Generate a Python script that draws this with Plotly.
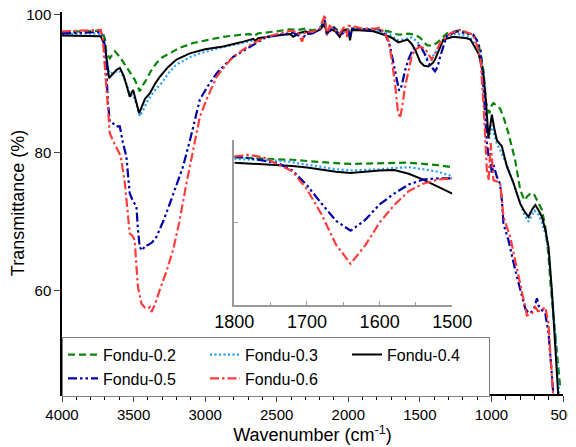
import plotly.graph_objects as go

# main spectra (wavenumber cm-1, transmittance %)
wn_02 = [4000, 3800, 3720, 3700, 3690, 3666, 3650, 3631, 3600, 3570, 3550, 3520, 3492, 3475, 3457, 3435, 3410, 3380,
         3340, 3300, 3247, 3180, 3084, 3000, 2874, 2750, 2687, 2660, 2630, 2500, 2408, 2350, 2300, 2250, 2200, 2165,
         2150, 2100, 2060, 2000, 1988, 1975, 1900, 1800, 1719, 1650, 1580, 1535, 1500, 1452, 1420, 1382, 1312, 1219,
         1126, 1102, 1080, 1056, 1037, 1014, 1000, 986, 960, 939, 910, 881, 834, 799, 775, 764, 752, 730, 706, 680,
         647, 620, 601, 585, 566, 550, 531, 520]
t_02 = [97.5, 97.6, 97.7, 96.5, 94.5, 93.7, 94.2, 94.7, 94.0, 93.0, 92.3, 91.5, 90.6, 89.8, 88.9, 89.8, 90.6, 91.8,
        93.0, 93.8, 94.4, 95.2, 95.9, 96.3, 96.8, 97.1, 97.2, 96.9, 97.3, 97.6, 97.9, 97.8, 98.0, 97.7, 98.1, 98.8,
        97.6, 98.2, 97.5, 98.0, 97.0, 98.0, 97.9, 97.9, 97.6, 97.1, 97.25, 97.1, 96.7, 95.6, 95.5, 95.9, 97.3, 97.8,
        96.9, 96.4, 94.8, 92.0, 87.2, 85.7, 86.8, 87.2, 86.8, 86.4, 84.8, 82.8, 78.9, 74.6, 73.4, 73.1, 73.6, 74.0,
        74.1, 73.0, 71.7, 68.8, 64.9, 60.5, 56.2, 52.0, 48.4, 46.0]

wn_03 = [4000, 3800, 3725, 3700, 3680, 3668, 3640, 3600, 3570, 3540, 3520, 3500, 3480, 3455, 3430, 3400, 3350, 3300,
         3250, 3200, 3100, 3050, 2900, 2750, 2650, 2600, 2500, 2400, 2380, 2300, 2250, 2200, 2165, 2150, 2100, 2060,
         2000, 1988, 1975, 1900, 1800, 1742, 1650, 1604, 1558, 1522, 1500, 1470, 1445, 1420, 1400, 1360, 1330, 1250,
         1150, 1110, 1085, 1060, 1040, 1025, 1015, 1000, 985, 962, 930, 900, 850, 800, 770, 741, 715, 700, 670, 650,
         620, 600, 585, 570, 555, 545, 530, 520]
t_03 = [97.2, 97.3, 97.2, 95.5, 92.5, 91.5, 91.6, 91.9, 91.0, 89.5, 88.3, 88.3, 86.8, 85.3, 86.3, 87.6, 89.1, 90.2,
        91.7, 92.8, 93.9, 94.3, 95.2, 95.9, 96.3, 96.6, 97.0, 97.2, 96.9, 97.5, 97.4, 97.8, 99.0, 97.5, 98.0, 97.2,
        97.8, 96.8, 97.9, 97.8, 97.7, 97.5, 96.3, 96.45, 96.7, 96.2, 95.6, 94.5, 93.6, 93.5, 94.3, 95.5, 96.5, 97.3,
        96.8, 95.6, 94.2, 91.5, 87.0, 83.0, 82.0, 84.0, 83.0, 81.3, 80.0, 78.6, 75.8, 72.8, 71.0, 70.0, 71.0, 71.6,
        71.0, 70.0, 68.0, 65.5, 61.5, 58.0, 54.0, 50.5, 45.0, 43.0]

wn_04 = [4000, 3800, 3730, 3700, 3680, 3671, 3650, 3620, 3596, 3570, 3545, 3527, 3503, 3485, 3461, 3440, 3420, 3387,
         3350, 3317, 3260, 3200, 3107, 3000, 2874, 2750, 2664, 2650, 2630, 2500, 2408, 2385, 2350, 2300, 2260, 2200,
         2165, 2150, 2120, 2090, 2060, 2040, 2000, 1988, 1975, 1900, 1825, 1750, 1700, 1650, 1610, 1586, 1558, 1530,
         1499, 1470, 1440, 1410, 1394, 1336, 1266, 1172, 1146, 1102, 1089, 1056, 1037, 1021, 1010, 997, 980, 962, 927,
         892, 846, 811, 799, 770, 741, 715, 693, 670, 647, 620, 601, 578, 555, 536, 525]
t_04 = [97.0, 97.0, 96.9, 95.5, 92.0, 90.8, 91.3, 92.0, 92.3, 91.2, 89.5, 88.1, 89.1, 87.5, 85.7, 86.8, 87.8, 88.6,
        90.0, 91.0, 92.4, 93.5, 94.4, 95.0, 95.4, 96.0, 96.5, 96.2, 96.6, 97.0, 97.2, 96.8, 97.3, 97.6, 97.3, 97.8,
        98.6, 97.2, 97.9, 97.6, 96.8, 97.7, 97.8, 96.3, 97.8, 97.7, 97.6, 97.1, 96.7, 96.0, 96.2, 96.4, 95.8, 94.8,
        93.2, 92.6, 92.5, 93.0, 93.5, 96.4, 96.8, 96.6, 96.4, 94.9, 94.3, 91.5, 87.2, 82.1, 83.5, 85.5, 83.5, 81.8,
        80.9, 78.0, 75.6, 73.6, 72.6, 71.5, 70.7, 71.8, 72.4, 71.6, 70.7, 68.5, 66.3, 60.1, 52.8, 45.5, 42.0]

wn_05 = [4000, 3800, 3725, 3705, 3690, 3680, 3666, 3640, 3620, 3596, 3575, 3550, 3527, 3505, 3480, 3470, 3457, 3440,
         3420, 3399, 3370, 3340, 3290, 3247, 3200, 3154, 3100, 3060, 3037, 2980, 2920, 2860, 2804, 2730, 2664, 2571,
         2480, 2384, 2350, 2320, 2300, 2250, 2200, 2165, 2150, 2100, 2060, 2000, 1988, 1975, 1900, 1825, 1800, 1742,
         1710, 1682, 1664, 1645, 1627, 1604, 1580, 1553, 1531, 1499, 1470, 1440, 1394, 1375, 1359, 1312, 1242, 1126,
         1100, 1076, 1056, 1032, 1020, 1009, 1003, 997, 985, 962, 940, 927, 916, 881, 834, 799, 764, 745, 729, 700,
         682, 670, 658, 624, 601, 590, 578, 566]
t_05 = [97.3, 97.4, 97.5, 96.0, 92.0, 87.5, 84.5, 84.2, 83.8, 83.8, 81.5, 79.4, 74.1, 73.0, 72.2, 69.0, 66.3, 65.8,
        66.5, 66.6, 67.0, 67.8, 70.2, 72.6, 75.3, 78.0, 82.3, 85.7, 87.7, 89.7, 91.5, 92.8, 93.9, 94.8, 95.6, 96.8,
        97.1, 97.4, 97.0, 96.3, 97.2, 97.3, 97.9, 99.2, 97.3, 98.1, 97.0, 97.9, 96.9, 98.0, 97.9, 97.8, 98.0, 97.2,
        95.55, 92.5, 90.5, 89.0, 89.7, 91.9, 93.5, 94.8, 95.35, 95.6, 94.5, 93.0, 91.8, 92.5, 93.9, 96.9, 97.6, 97.1,
        96.2, 94.9, 89.6, 81.4, 79.5, 79.9, 78.0, 77.0, 78.2, 76.5, 75.5, 73.1, 69.7, 67.3, 63.0, 60.1, 57.4, 56.9,
        56.7, 57.5, 58.9, 57.8, 57.4, 56.7, 53.8, 51.0, 47.5, 44.6]

wn_06 = [4000, 3800, 3730, 3715, 3700, 3690, 3678, 3666, 3640, 3608, 3590, 3561, 3540, 3527, 3510, 3492, 3480, 3469,
         3445, 3420, 3399, 3385, 3375, 3350, 3317, 3270, 3224, 3180, 3130, 3080, 3037, 2990, 2920, 2860, 2804, 2730,
         2664, 2571, 2480, 2400, 2350, 2324, 2300, 2250, 2200, 2163, 2150, 2130, 2100, 2060, 2030, 2010, 2000, 1975,
         1900, 1800, 1779, 1742, 1719, 1696, 1673, 1655, 1639, 1623, 1604, 1580, 1558, 1535, 1500, 1464, 1440, 1417,
         1390, 1359, 1289, 1219, 1126, 1100, 1076, 1056, 1032, 1020, 1005, 995, 986, 960, 939, 927, 916, 869, 822,
         787, 752, 717, 693, 675, 658, 624, 601, 587, 568]
t_06 = [97.6, 97.7, 97.8, 96.5, 93.0, 89.5, 86.2, 82.8, 81.6, 80.4, 79.5, 75.6, 71.5, 68.3, 68.0, 67.3, 63.5, 60.5,
        58.1, 57.5, 57.4, 57.6, 56.9, 58.0, 60.1, 62.8, 65.9, 70.0, 75.6, 80.8, 85.2, 87.7, 91.0, 92.6, 93.9, 95.0,
        95.9, 96.8, 97.3, 97.7, 97.4, 96.1, 97.6, 97.5, 98.0, 100.0, 97.0, 98.4, 97.9, 97.3, 98.2, 96.8, 98.4, 98.4,
        98.0, 98.0, 98.2, 97.2, 96.2, 93.5, 89.9, 86.3, 85.0, 86.7, 89.5, 92.1, 93.9, 94.9, 95.35, 95.1, 94.3, 93.5,
        94.5, 95.9, 97.3, 97.8, 97.1, 95.5, 93.5, 87.2, 77.5, 76.0, 81.4, 78.5, 76.0, 75.8, 75.6, 73.1, 70.7, 67.8,
        63.0, 59.6, 56.4, 56.7, 57.6, 57.0, 57.1, 57.6, 55.2, 50.4, 44.6]

# inset 1800-1500
wn_in = [1800, 1780, 1760, 1740, 1720, 1700, 1680, 1660, 1640, 1620, 1600, 1580, 1560, 1540, 1520, 1500]
in_02 = [97.9, 97.85, 97.75, 97.65, 97.6, 97.45, 97.3, 97.2, 97.1, 97.15, 97.2, 97.25, 97.25, 97.1, 96.95, 96.7]
in_03 = [97.7, 97.6, 97.55, 97.5, 97.3, 97.0, 96.7, 96.45, 96.3, 96.35, 96.45, 96.6, 96.7, 96.45, 96.15, 95.6]
in_04 = [97.25, 97.15, 97.05, 97.0, 96.85, 96.65, 96.4, 96.15, 96.0, 96.15, 96.3, 96.35, 95.9, 95.2, 94.4, 93.5]
in_05 = [98.0, 97.8, 97.5, 97.2, 96.3, 94.5, 92.3, 90.2, 89.0, 90.3, 92.2, 93.5, 94.6, 95.2, 95.35, 95.35]
in_06 = [98.0, 98.2, 97.9, 97.1, 96.2, 94.0, 91.0, 87.3, 85.0, 87.2, 90.0, 92.1, 93.8, 94.7, 95.2, 95.35]

names = ["Fondu-0.2", "Fondu-0.3", "Fondu-0.4", "Fondu-0.5", "Fondu-0.6"]
main_x = [wn_02, wn_03, wn_04, wn_05, wn_06]
main_y = [t_02, t_03, t_04, t_05, t_06]
inset_y = [in_02, in_03, in_04, in_05, in_06]

styles = [
    dict(color="#0a840a", dash="7px,4px", width=2.2),
    dict(color="#1e9eff", dash="2px,2.5px", width=2.2),
    dict(color="black", dash="solid", width=2),
    dict(color="#0000a8", dash="9px,3px,2.5px,3px,2.5px,3px", width=2.2),
    dict(color="#ff3c3c", dash="9px,3px,2.5px,3px", width=2.2),
]

fig = go.Figure()
for name, x, y, st in zip(names, main_x, main_y, styles):
    fig.add_trace(go.Scatter(x=x, y=y, mode="lines", name=name, line=st))
for name, y, st in zip(names, inset_y, styles):
    fig.add_trace(go.Scatter(x=wn_in, y=y, mode="lines", name=name, line=st,
                             xaxis="x2", yaxis="y2", showlegend=False))

font = "Arial, Liberation Sans, sans-serif"
# page body adds an 8px margin, so the figure is 8px smaller each way
fig.update_layout(
    width=568, height=439,
    margin=dict(l=54, r=13, t=4, b=53),
    paper_bgcolor="white", plot_bgcolor="white",
    font=dict(family=font, size=15, color="black"),
    xaxis=dict(range=[4000, 500], tickvals=[4000, 3500, 3000, 2500, 2000, 1500, 1000, 500], automargin=False,
               ticks="outside", ticklen=6, tickwidth=1.2, showline=True, linecolor="black", linewidth=1.5,
               showgrid=False, zeroline=False, ticklabeloverflow="allow",
               minor=dict(dtick=100, ticks="outside", ticklen=4, tickcolor="black", showgrid=False),
               title=dict(text="Wavenumber (cm<sup>-1</sup>)", font=dict(size=18), standoff=6)),
    yaxis=dict(range=[45, 100.4], tickvals=[60, 80, 100], ticks="outside", ticklen=6, tickwidth=1.2,
               showline=True, linecolor="black", linewidth=1.5, showgrid=False, zeroline=False, automargin=False,
               ticklabeloverflow="allow",
               title=dict(text="Transmittance (%)", font=dict(size=18), standoff=4)),
    xaxis2=dict(domain=[0.344, 0.779], anchor="y2", range=[1800, 1500], tickvals=[1800, 1700, 1600, 1500],
                ticks="inside", ticklen=4, tickcolor="#9a9a9a", showline=True, linecolor="#9a9a9a", linewidth=1.5,
                showgrid=False, zeroline=False, tickfont=dict(size=18), automargin=False,
                minor=dict(dtick=50, ticks="inside", ticklen=3, tickcolor="#9a9a9a", showgrid=False)),
    yaxis2=dict(domain=[0.233, 0.665], anchor="x2", range=[80, 100], tickvals=[80, 90, 100],
                showticklabels=False, ticks="inside", ticklen=4, tickcolor="#9a9a9a", showline=True,
                linecolor="#9a9a9a", linewidth=1.5, showgrid=False, zeroline=False, automargin=False),
    legend=dict(orientation="h", x=0.0, y=0.15, xanchor="left", yanchor="top",
                entrywidth=97, entrywidthmode="pixels", bgcolor="white",
                bordercolor="#808080", borderwidth=1, font=dict(size=16),
                tracegroupgap=0, itemwidth=30),
)

fig.write_html("out.html")
